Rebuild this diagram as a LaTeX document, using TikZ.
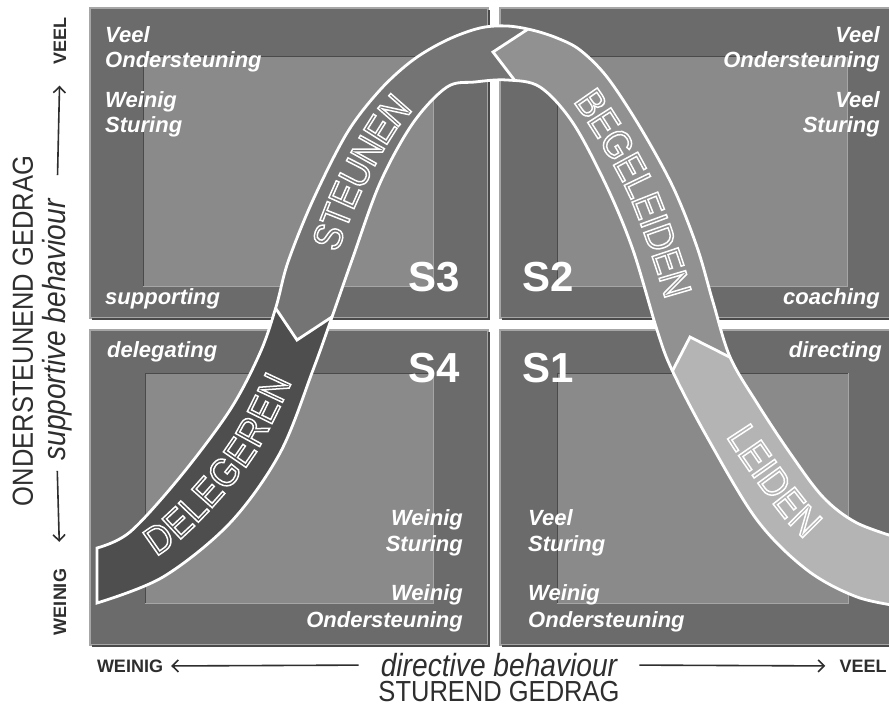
\documentclass[tikz,border=0pt]{standalone}
\usepackage{fontspec}
\setmainfont{Liberation Sans}
\newfontfamily\narrowfont[FakeStretch=0.88]{Liberation Sans}
\usetikzlibrary{arrows.meta, decorations.text, positioning}
\definecolor{framegray}{HTML}{6B6B6B}
\definecolor{innergray}{HTML}{8A8A8A}
\definecolor{rimgray}{HTML}{A6A6A6}
\definecolor{shadegray}{HTML}{4A4A4A}
\definecolor{delcol}{HTML}{4E4E4E}
\definecolor{steuncol}{HTML}{747474}
\definecolor{begcol}{HTML}{919191}
\definecolor{leidcol}{HTML}{B4B4B4}
\definecolor{axiscol}{HTML}{2E2E2E}
\newcommand{\hollowon}{\special{pdf:literal direct 1 Tr 1.5 w}}

\begin{document}
\begin{tikzpicture}[x=1pt, y=-1pt,
        quadtxt/.style={font=\fontsize{22}{22}\selectfont\bfseries\itshape, text=white, inner sep=0pt},
        slabel/.style={font=\fontsize{42}{42}\selectfont\bfseries, text=white, inner sep=0pt},
        axislbl/.style={font=\narrowfont\fontsize{29}{29}\selectfont, text=axiscol, inner sep=0pt},
        axisitl/.style={font=\narrowfont\fontsize{32}{32}\selectfont\itshape, text=axiscol, inner sep=0pt},
        axisend/.style={font=\fontsize{18}{18}\selectfont\bfseries, text=axiscol, inner sep=0pt},
        axisarrow/.style={draw=axiscol, line width=1.6pt, -{Straight Barb[length=6pt, width=12pt]}},
        bandline/.style={draw=white, line width=2.8pt},
        bandtext/.style={decorate, decoration={text along path, text align=center, raise=-14pt, text color=white,
            text={|\hollowon\narrowfont\fontsize{40}{40}\selectfont|#1}}}
    ]
    \useasboundingbox (0,0) rectangle (889,711);
    \clip (0,0) rectangle (889,711);
    \fill[white] (0,0) rectangle (889,711);

    \foreach \ax/\ay/\bx/\by/\cx/\cy/\dx/\dy in {90/8/488/318/143/57/433/287, 500/8/902/318/557/57/847/287,
            90/330/488/645/145/373/433/603, 500/330/902/645/557/373/848/603} {
        \filldraw[fill=framegray, draw=rimgray, line width=1.5pt] (\ax,\ay) rectangle (\bx,\by);
        \draw[shadegray, line width=1.5pt] (\ax+2,\by+1) -- (\bx+1,\by+1) -- (\bx+1,\ay+2);
        \fill[innergray] (\cx,\cy) rectangle (\dx,\dy);
        \draw[shadegray, line width=1pt] (\cx,\dy) |- (\dx,\cy);
        \draw[rimgray, line width=1pt] (\cx,\dy) -| (\dx,\cy);
    }

    \node[quadtxt, anchor=base west] (tlveel) at (105,43) {Veel};
    \node[quadtxt, anchor=base west] (tlond) at (105,68) {Ondersteuning};
    \node[quadtxt, anchor=base west] (tlwein) at (105,108) {Weinig};
    \node[quadtxt, anchor=base west] (tlstur) at (105,133) {Sturing};
    \node[quadtxt, anchor=base west] (tlsupp) at (105,305) {supporting};

    \node[quadtxt, anchor=base east] (trveel) at (880,43) {Veel};
    \node[quadtxt, anchor=base east] (trond) at (880,68) {Ondersteuning};
    \node[quadtxt, anchor=base east] (trveelb) at (880,108) {Veel};
    \node[quadtxt, anchor=base east] (trstur) at (880,133) {Sturing};
    \node[quadtxt, anchor=base east] (trcoach) at (880,305) {coaching};

    \node[quadtxt, anchor=base west] (bldeleg) at (107,357) {delegating};
    \node[quadtxt, anchor=base east] (blwein) at (463,525) {Weinig};
    \node[quadtxt, anchor=base east] (blstur) at (463,551) {Sturing};
    \node[quadtxt, anchor=base east] (blweinb) at (463,600) {Weinig};
    \node[quadtxt, anchor=base east] (blond) at (463,627) {Ondersteuning};

    \node[quadtxt, anchor=base east] (brdirect) at (882,357) {directing};
    \node[quadtxt, anchor=base west] (brveel) at (528,525) {Veel};
    \node[quadtxt, anchor=base west] (brstur) at (528,551) {Sturing};
    \node[quadtxt, anchor=base west] (brwein) at (528,600) {Weinig};
    \node[quadtxt, anchor=base west] (brond) at (528,627) {Ondersteuning};

    \node[slabel, anchor=base east] (sthree) at (460,292) {S3};
    \node[slabel, anchor=base west] (stwo) at (522,292) {S2};
    \node[slabel, anchor=base east] (sfour) at (460,382) {S4};
    \node[slabel, anchor=base west] (sone) at (522,382) {S1};

    \node[axislbl, rotate=90] (ondgedrag) at (23,331) {ONDERSTEUNEND GEDRAG};
    \node[axisitl, rotate=90] (suppbeh) at (57,330) {supportive behaviour};
    \node[axisend, rotate=90] (lveel) at (60,41) {VEEL};
    \node[axisend, rotate=90] (lwein) at (60,602) {WEINIG};
    \draw[axisarrow, shorten <=24pt, shorten >=21pt] (suppbeh.east) -- (lveel.west);
    \draw[axisarrow, shorten <=10pt, shorten >=27pt] (suppbeh.west) -- (lwein.east);

    \node[axisitl] (dirbeh) at (499,665) {directive behaviour};
    \node[axislbl, below=4pt of dirbeh] (sturgedrag) {STUREND GEDRAG};
    \node[axisend] (bwein) at (130,666) {WEINIG};
    \node[axisend] (bveel) at (863,666) {VEEL};
    \draw[axisarrow, shorten <=22pt, shorten >=8pt] (dirbeh.west) -- (bwein.east);
    \draw[axisarrow, shorten <=22pt, shorten >=14pt] (dirbeh.east) -- (bveel.west);

    \path[save path=\bandpath]
        plot[smooth, tension=0.55] coordinates {(97,548) (130,532) (180,477) (230,410) (260,353) (276,307)
            (288,262) (313,200) (347,133) (380,90) (413,60) (447,40) (480,28) (507,26) (532,30) (557,38)
            (580,50) (607,77) (640,127) (673,187) (697,247) (713,302) (730,357) (757,403) (790,453)
            (823,497) (857,523) (905,540)}
        -- plot[smooth, tension=0.55] coordinates {(905,607) (857,597) (807,570) (757,520) (707,437)
            (672,370) (657,330) (633,250) (607,187) (573,123) (540,87) (507,80) (475,82) (447,87)
            (413,123) (380,183) (352,260) (332,317) (313,370) (280,453) (230,523) (163,577) (97,603)}
        -- cycle;
    \fill[delcol, use path=\bandpath];
    \begin{scope}
        \clip (0,-10) -- (950,-10) -- (950,711) -- (345,711) -- (345,309) -- (297,340) -- (265,292)
            -- (0,292) -- cycle;
        \fill[steuncol, use path=\bandpath];
    \end{scope}
    \begin{scope}
        \clip (587,-10) -- (950,-10) -- (950,711) -- (540,711) -- (540,114) -- (493,52) -- cycle;
        \fill[begcol, use path=\bandpath];
    \end{scope}
    \begin{scope}
        \clip (662,392) -- (690,337) -- (760,372) -- (950,372) -- (950,711) -- (662,711) -- cycle;
        \fill[leidcol, use path=\bandpath];
    \end{scope}
    \begin{scope}
        \clip[use path=\bandpath];
        \draw[bandline] (262,288) -- (297,340) -- (350,305);
        \draw[bandline] (545,18) -- (493,52) -- (532,103);
        \draw[bandline] (660,395) -- (690,337) -- (765,375);
    \end{scope}
    \path[bandline, use path=\bandpath];

    \path[bandtext=DELEGEREN] plot[smooth] coordinates {(97,576) (172,528) (239,453) (282,370) (300,320)};
    \path[bandtext=STEUNEN] plot[smooth] coordinates {(304,315) (320,260) (347,190) (384,123) (420,85) (460,60)};
    \path[bandtext=BEGELEIDEN] plot[smooth] coordinates {(520,56) (540,58) (575,82) (609,130) (642,190)
        (668,260) (686,320) (703,370)};
    \path[bandtext=LEIDEN] plot[smooth] coordinates {(700,362) (743,437) (800,515) (850,557) (880,568)};
\end{tikzpicture}
\end{document}
